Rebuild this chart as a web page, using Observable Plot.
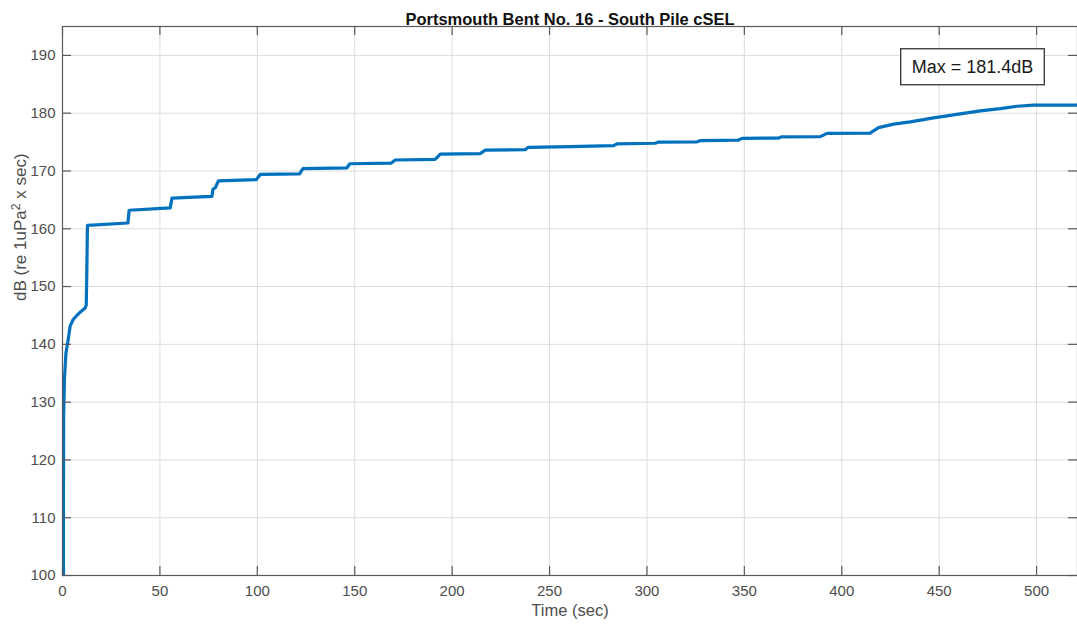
<!DOCTYPE html>
<html>
<head>
<meta charset="utf-8">
<script src="https://cdn.jsdelivr.net/npm/d3@7"></script>
<script src="https://cdn.jsdelivr.net/npm/@observablehq/plot@0.6"></script>
<style>
  html, body { margin: 0; padding: 0; background: #fff; }
  #chart svg { display: block; }
</style>
</head>
<body>
<div id="chart"></div>
<script>
// ---- Data ----
const titleText = "Portsmouth Bent No. 16 - South Pile cSEL";
const xLabel = "Time (sec)";
const yLabelParts = ["dB (re 1uPa", "2", " x sec)"];

const timeSec = [0.5, 0.5, 0.6, 1.0, 1.75, 3.0, 3.95, 5.5, 7.4, 9.5, 11.65, 12.2, 12.5, 12.8,
  33.6, 34.2, 55.3, 56.2, 76.7, 77.2, 78.6, 80.0, 99.5, 101.5, 121.7, 123.4, 146.0, 147.5,
  168.6, 170.8, 191.3, 193.9, 214.4, 217.0, 237.5, 239.2, 260.6, 282.9, 284.6, 304.3, 306.0,
  325.7, 327.5, 347.0, 348.8, 367.6, 369.0, 389.0, 392.4, 414.6, 416.5, 418.9, 426.6, 435.2,
  447.1, 459.1, 471.1, 481.4, 490.0, 498.5, 521.0];
const cselDb = [100, 115, 128, 134, 138.4, 141.0, 143.2, 144.3, 145.0, 145.7, 146.3, 146.8, 153.0, 160.6,
  161.0, 163.2, 163.6, 165.3, 165.6, 166.8, 167.2, 168.3, 168.5, 169.4, 169.5, 170.4, 170.55, 171.25,
  171.35, 171.9, 172.0, 172.9, 173.0, 173.6, 173.7, 174.1, 174.2, 174.4, 174.7, 174.8, 175.0,
  175.05, 175.25, 175.35, 175.65, 175.7, 175.9, 175.95, 176.5, 176.55, 177.0, 177.5, 178.1, 178.5,
  179.2, 179.8, 180.4, 180.8, 181.2, 181.4, 181.4];

const xTicks = [0, 50, 100, 150, 200, 250, 300, 350, 400, 450, 500];
const yTicks = [100, 110, 120, 130, 140, 150, 160, 170, 180, 190];

const rows = timeSec.map((t, i) => ({t, db: cselDb[i]}));
const maxLabel = `Max = ${d3.max(cselDb).toFixed(1)}dB`;

// ---- Layout ----
const W = 1077, H = 625;
const mT = 26, mL = 62, mR = 0, mB = 50;
const plotW = W - mL - mR, plotH = H - mT - mB;
const tickLen = 9;
const axisColor = "#595959";
const labelColor = "#4d4d4d";

const chart = Plot.plot({
  width: W, height: H,
  marginTop: mT, marginLeft: mL, marginRight: mR, marginBottom: mB,
  style: {fontFamily: "'Liberation Sans', Arial, sans-serif", fontSize: "15px", color: labelColor, background: "#fff", overflow: "visible"},
  x: {domain: [0, 521], label: null},
  y: {domain: [100, 195], label: null},
  marks: [
    Plot.gridX(xTicks, {stroke: "#dcdcdc", strokeOpacity: 1}),
    Plot.gridY(yTicks, {stroke: "#dcdcdc", strokeOpacity: 1}),
    Plot.line(rows, {x: "t", y: "db", stroke: "#0072BD", strokeWidth: 3.2, strokeLinejoin: "round", clip: true}),
    Plot.frame({stroke: axisColor, strokeWidth: 1.2}),
    // inward ticks
    Plot.tickX(xTicks, {x: d => d, stroke: axisColor, strokeWidth: 1.2, insetTop: plotH - tickLen}),
    Plot.tickX(xTicks, {x: d => d, stroke: axisColor, strokeWidth: 1.2, insetBottom: plotH - tickLen}),
    Plot.tickY(yTicks, {y: d => d, stroke: axisColor, strokeWidth: 1.2, insetRight: plotW - tickLen}),
    Plot.tickY(yTicks, {y: d => d, stroke: axisColor, strokeWidth: 1.2, insetLeft: plotW - tickLen}),
    Plot.axisX(xTicks, {anchor: "bottom", tickSize: 0, tickPadding: 10, label: null, fill: labelColor}),
    Plot.axisY(yTicks, {anchor: "left", tickSize: 0, tickPadding: 7, label: null, fill: labelColor}),
    // title and axis labels
    Plot.text([titleText], {frameAnchor: "top", dy: -13, fontWeight: "bold", fontSize: 16.5, fill: "#111"}),
    Plot.text([xLabel], {frameAnchor: "bottom", dy: 40, fontSize: 16.5, fill: labelColor}),
    Plot.text([yLabelParts.join("")], {frameAnchor: "left", dx: -42, rotate: -90, fontSize: 17, fill: labelColor, className: "ylab"}),
    // max annotation
    Plot.text([maxLabel], {frameAnchor: "top-right", dx: -105, dy: 40.5, textAnchor: "middle", lineAnchor: "middle", fontSize: 18, fill: "#1a1a1a", className: "maxlab"})
  ]
});

document.getElementById("chart").appendChild(chart);

// superscript in y label
const ylab = chart.querySelector(".ylab text");
if (ylab) {
  ylab.textContent = "";
  const ns = "http://www.w3.org/2000/svg";
  const a = document.createElementNS(ns, "tspan"); a.textContent = yLabelParts[0];
  const b = document.createElementNS(ns, "tspan"); b.textContent = yLabelParts[1];
  b.setAttribute("dy", "-0.5em"); b.setAttribute("font-size", "0.72em");
  const c = document.createElementNS(ns, "tspan"); c.textContent = yLabelParts[2];
  c.setAttribute("dy", "0.36em");
  ylab.append(a, b, c);
}

// box around max annotation
const mtext = chart.querySelector(".maxlab text");
if (mtext) {
  const bb = mtext.getBBox();
  const padX = 11, padY = 8;
  const ns = "http://www.w3.org/2000/svg";
  const rect = document.createElementNS(ns, "rect");
  rect.setAttribute("x", bb.x - padX);
  rect.setAttribute("y", bb.y - padY);
  rect.setAttribute("width", bb.width + 2 * padX);
  rect.setAttribute("height", bb.height + 2 * padY);
  rect.setAttribute("fill", "#fff");
  rect.setAttribute("stroke", "#333");
  rect.setAttribute("stroke-width", "1.3");
  const g = chart.querySelector(".maxlab");
  const tr = mtext.getAttribute("transform");
  if (tr) rect.setAttribute("transform", tr);
  g.insertBefore(rect, mtext);
}
</script>
</body>
</html>
